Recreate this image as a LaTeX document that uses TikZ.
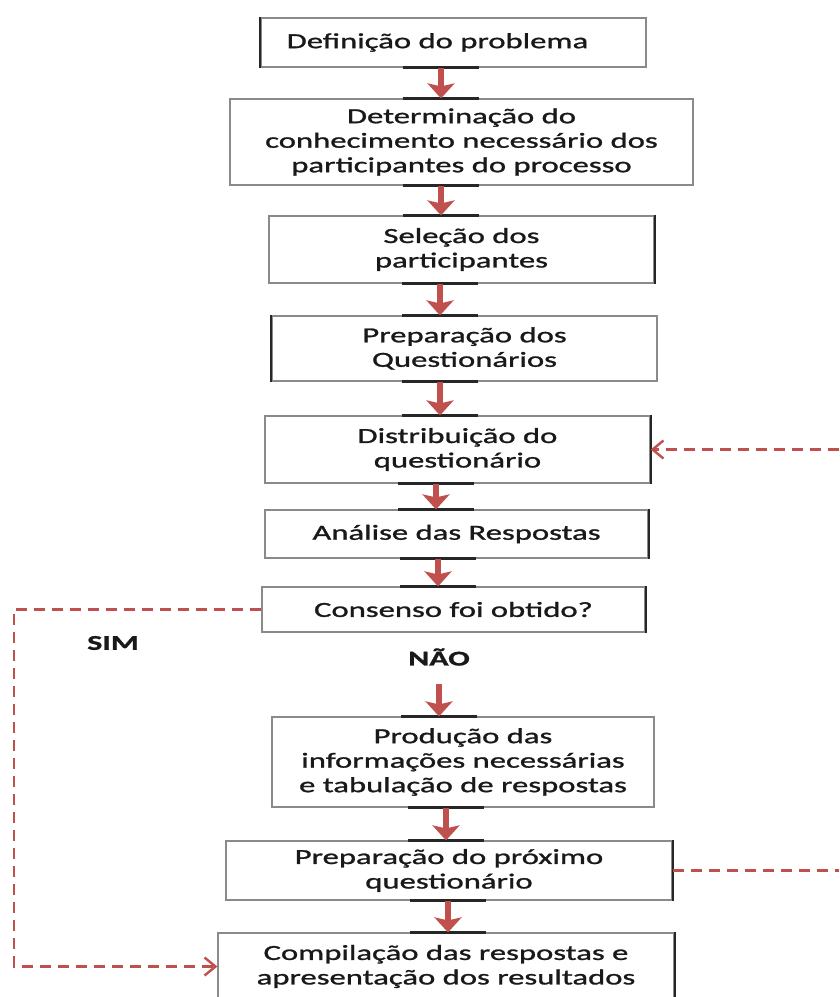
\documentclass[tikz,border=0pt]{standalone}
\usepackage{fontspec}
\setmainfont{Carlito}[FakeStretch=1.52, FakeBold=1.2]
\usetikzlibrary{arrows.meta}
\definecolor{vermelho}{HTML}{C0504D}
\definecolor{borda}{HTML}{8A8A8A}

\tikzset{
  caixa/.style={draw=borda, line width=1.2pt, align=center, inner sep=0pt, text=black!90, font=\fontsize{21.5}{24.5}\selectfont},
  seta/.style={draw=vermelho, line width=5.5pt, -{Stealth[width=27pt,length=15pt,inset=3pt]}},
  barra/.style={line width=2.5pt, black!85},
  lado/.style={line width=2pt, black!85},
  tracejado/.style={draw=vermelho, line width=2.4pt, dash pattern=on 11pt off 7pt},
  retorno/.style={-{Straight Barb[length=11pt,width=18pt]}},
  rotulo/.style={inner sep=0pt, text=black!90, font=\fontsize{21}{24}\selectfont\bfseries}
}

\begin{document}
\begin{tikzpicture}[x=1pt, y=-1pt]
  \useasboundingbox (0,0) rectangle (839,997);

  % caixas do fluxo
  \node[caixa, minimum width=385, minimum height=49] (definicao) at (453.5,42.5) {\hspace*{-32pt}Definição do problema};
  \node[caixa, minimum width=463, minimum height=86] (determinacao) at (461.5,142) {Determinação do\\conhecimento necessário dos\\participantes do processo};
  \node[caixa, minimum width=385, minimum height=67] (selecao) at (461.5,249.5) {Seleção dos\\participantes};
  \node[caixa, minimum width=385, minimum height=65] (preparacao) at (464.5,348.5) {Preparação dos\\Questionários};
  \node[caixa, minimum width=385, minimum height=67] (distribuicao) at (457.5,449.5) {Distribuição do\\questionário};
  \node[caixa, minimum width=383, minimum height=48] (analise) at (456.5,534) {Análise das Respostas};
  \node[caixa, minimum width=383, minimum height=45] (consenso) at (453.5,609.5) {Consenso foi obtido?};
  \node[rotulo] (sim) at (113,643) {SIM};
  \node[rotulo] (nao) at (439,657) {NÃO};
  \node[caixa, minimum width=382, minimum height=90] (producao) at (463,762) {Produção das\\informações necessárias\\e tabulação de respostas};
  \node[caixa, minimum width=446, minimum height=59] (proximo) at (449,870.5) {Preparação do próximo\\questionário};
  \node[caixa, minimum width=456, minimum height=67] (compilacao) at (446,966.5) {Compilação das respostas e\\apresentação dos resultados};

  % lados mais escuros
  \draw[lado] (definicao.north west) -- (definicao.south west);
  \draw[lado] (preparacao.north west) -- (preparacao.south west);
  \foreach \n in {selecao,distribuicao,analise,consenso,proximo,compilacao}
    \draw[lado] (\n.north east) -- (\n.south east);

  % setas entre caixas
  \foreach \de/\para/\dx in {definicao/determinacao/-12.5, determinacao/selecao/-20.5, selecao/preparacao/-21.5, preparacao/distribuicao/-24.5, distribuicao/analise/-21.5, analise/consenso/-18.5, producao/proximo/-17, proximo/compilacao/-1}{
    \coordinate (s) at ([xshift=\dx]\de.south);
    \coordinate (t) at (s |- \para.north);
    \draw[barra] ([xshift=-38]s) -- ([xshift=38]s);
    \draw[barra] ([xshift=-38]t) -- ([xshift=38]t);
    \draw[seta] (s) -- (t);
  }
  \coordinate (s) at ([yshift=-18]nao.south);
  \draw[barra] ([xshift=-38]s |- producao.north) -- ([xshift=38]s |- producao.north);
  \draw[seta] (s) -- (s |- producao.north);

  % retornos tracejados
  \coordinate (margem) at (14,0);
  \coordinate (direita) at (839,0);
  \draw[tracejado, retorno] (consenso.west) -- (consenso.west -| margem) -- (margem |- compilacao.west) -- (compilacao.west);
  \draw[tracejado] (proximo.east) -- (proximo.east -| direita);
  \draw[tracejado, retorno] (distribuicao.east -| direita) -- (distribuicao.east);
\end{tikzpicture}
\end{document}
